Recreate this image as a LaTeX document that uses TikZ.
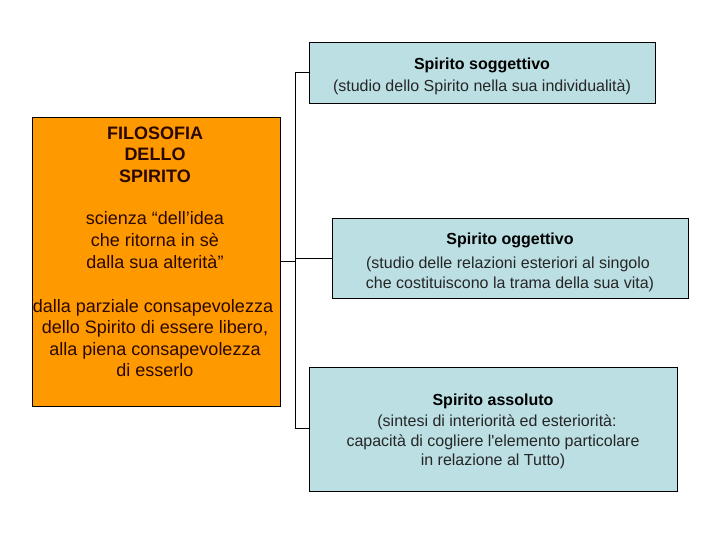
\documentclass[tikz,border=0pt]{standalone}
\usepackage{fontspec}
\setmainfont{Liberation Sans}[Ligatures=TeXOff]
\definecolor{boxblue}{HTML}{BBDFE3}
\definecolor{boxorange}{HTML}{FF9900}
\definecolor{darktext}{HTML}{2A0800}
\begin{document}
\begin{tikzpicture}[x=1pt,y=-1pt,
  bluebox/.style={draw=black,line width=1pt,fill=boxblue,inner sep=0pt,outer sep=0pt,anchor=north west},
  orangebox/.style={draw=black,line width=1pt,fill=boxorange,inner sep=0pt,outer sep=0pt,anchor=north west},
  titletxt/.style={anchor=base,inner sep=0pt,font=\bfseries\fontsize{16}{19}\selectfont},
  subtxt/.style={anchor=base,inner sep=0pt,font=\fontsize{16}{19}\selectfont,text=black!85},
  otitle/.style={anchor=base,inner sep=0pt,font=\bfseries\fontsize{18}{21}\selectfont,text=darktext},
  otxt/.style={anchor=base,inner sep=0pt,font=\fontsize{18}{21}\selectfont,text=darktext},
  conn/.style={draw=black,line width=1pt}]
\useasboundingbox (0,0) rectangle (720,540);

% boxes
\node[orangebox,minimum width=248pt,minimum height=288pt] (filo) at (32,118) {};
\node[bluebox,minimum width=346pt,minimum height=61pt] (sogg) at (309,43) {};
\node[bluebox,minimum width=356pt,minimum height=79pt] (ogg) at (332,219) {};
\node[bluebox,minimum width=368pt,minimum height=124pt] (ass) at (309,367) {};

% connectors
\coordinate (vtop) at (295,73);
\coordinate (vbot) at (295,428);
\coordinate (vmid) at (295,258);
\coordinate (vmidl) at (295,261);
\draw[conn] (vtop -| sogg.west) -- (vtop) -- (vbot) -- (vbot -| ass.west);
\draw[conn] (vmid) -- (vmid -| ogg.west);
\draw[conn] (vmidl -| filo.east) -- (vmidl);

% orange box text
\node[otitle] (f1) at (155,139.5) {FILOSOFIA};
\node[otitle] (f2) at (155,161) {DELLO};
\node[otitle] (f3) at (155,182.5) {SPIRITO};
\node[otxt] (s1) at (155,225) {scienza “dell’idea};
\node[otxt] (s2) at (155,246.5) {che ritorna in sè};
\node[otxt] (s3) at (155,268) {dalla sua alterità”};
\node[otxt] (d1) at (153,312) {dalla parziale consapevolezza};
\node[otxt] (d2) at (155,333.5) {dello Spirito di essere libero,};
\node[otxt] (d3) at (155,355) {alla piena consapevolezza};
\node[otxt] (d4) at (155,376.5) {di esserlo};

% soggettivo
\node[titletxt] (sgT) at (482,69.5) {Spirito soggettivo};
\node[subtxt] (sg1) at (482,91.5) {(studio dello Spirito nella sua individualità)};

% oggettivo
\node[titletxt] (ogT) at (510,244) {Spirito oggettivo};
\node[subtxt] (og1) at (508,268) {(studio delle relazioni esteriori al singolo};
\node[subtxt] (og2) at (510,288) {che costituiscono la trama della sua vita)};

% assoluto
\node[titletxt] (asT) at (493,405) {Spirito assoluto};
\node[subtxt] (as1) at (497,426.5) {(sintesi di interiorità ed esteriorità:};
\node[subtxt] (as2) at (493,446) {capacità di cogliere l'elemento particolare};
\node[subtxt] (as3) at (493,465.5) {in relazione al Tutto)};
\end{tikzpicture}
\end{document}
